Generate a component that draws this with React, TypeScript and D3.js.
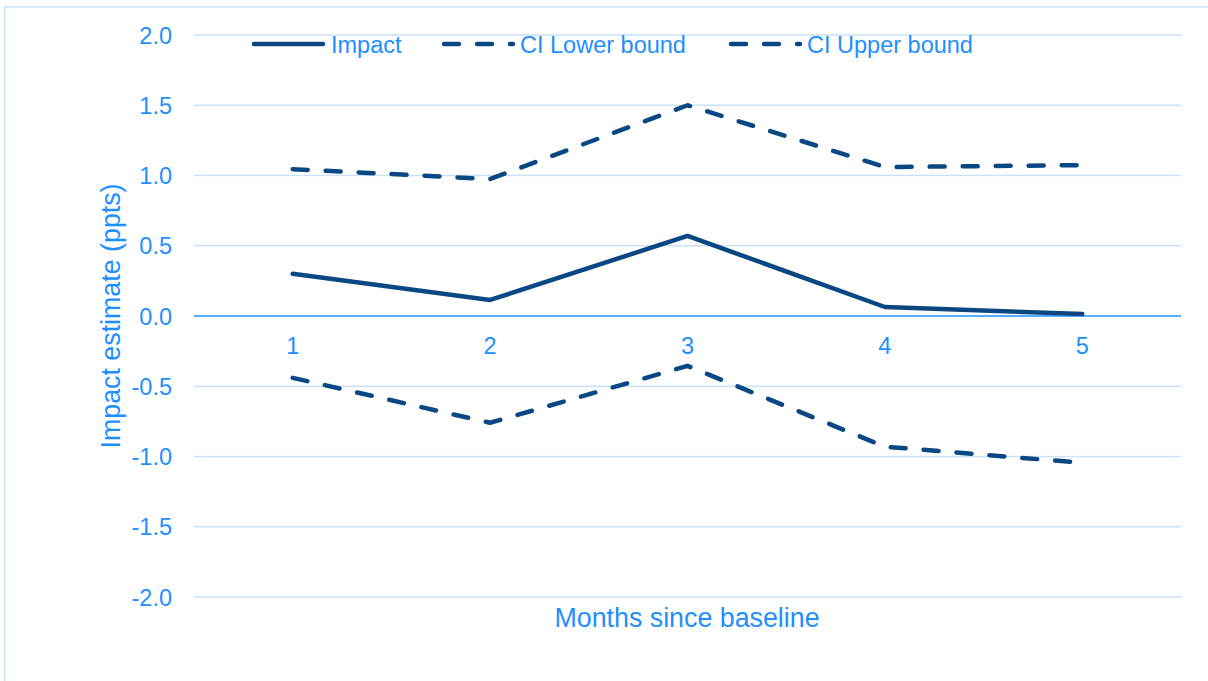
import React from "react";
import * as d3 from "d3";

const months = ["1", "2", "3", "4", "5"];
const impact = [0.3, 0.114, 0.57, 0.064, 0.014];
const ciLower = [-0.44, -0.76, -0.355, -0.93, -1.045];
const ciUpper = [1.045, 0.975, 1.5, 1.06, 1.074];
const yTicks = [2.0, 1.5, 1.0, 0.5, 0.0, -0.5, -1.0, -1.5, -2.0];

const W = 1208;
const H = 681;
const TEXT = "#1f8fff";
const LINE = "#0b4883";
const GRID = "#c9e2fa";
const FONT = "'Liberation Sans', Arial, sans-serif";

export default function App() {
  const left = 194;
  const right = 1181;
  const top = 35;
  const bottom = 597;
  const x = d3.scaleBand<string>().domain(months).range([left, right]);
  const y = d3.scaleLinear().domain([-2, 2]).range([bottom, top]);
  const cx = (m: string) => (x(m) as number) + x.bandwidth() / 2;
  const line = d3
    .line<number>()
    .x((_, i) => cx(months[i]))
    .y((d) => y(d));

  const series = [
    { name: "Impact", values: impact, dash: undefined as string | undefined, lx: 254, tx: 331 },
    { name: "CI Lower bound", values: ciLower, dash: "15,18", lx: 444, tx: 520 },
    { name: "CI Upper bound", values: ciUpper, dash: "15,18", lx: 731, tx: 807 },
  ];

  return (
    <svg
      width={W}
      height={H}
      style={{ position: "absolute", left: 0, top: 0, background: "#fff" }}
      fontFamily={FONT}
    >
      <rect x={4.5} y={7} width={1400} height={900} fill="#fff" stroke={GRID} strokeWidth={1.5} />
      {yTicks.map((t) => (
        <g key={t}>
          {t !== 0 && (
            <line x1={left} x2={right} y1={y(t)} y2={y(t)} stroke={GRID} strokeWidth={1.5} />
          )}
          <text x={172} y={y(t) + 8.5} textAnchor="end" fontSize={23.5} fill={TEXT}>
            {t.toFixed(1)}
          </text>
        </g>
      ))}
      <line x1={left} x2={right} y1={y(0)} y2={y(0)} stroke="#1e90ff" strokeWidth={1.5} />
      {months.map((m) => (
        <text key={m} x={cx(m)} y={354} textAnchor="middle" fontSize={23.5} fill={TEXT}>
          {m}
        </text>
      ))}
      {series.map((s) => (
        <path
          key={s.name}
          d={line(s.values) || ""}
          fill="none"
          stroke={LINE}
          strokeWidth={4.5}
          strokeDasharray={s.dash}
          strokeLinecap="round"
          strokeLinejoin="round"
        />
      ))}
      {series.map((s) => (
        <g key={"lg" + s.name}>
          <line
            x1={s.lx}
            x2={s.lx + 69}
            y1={44}
            y2={44}
            stroke={LINE}
            strokeWidth={4.5}
            strokeDasharray={s.dash}
            strokeLinecap="round"
          />
          <text x={s.tx} y={52.5} fontSize={23.5} fill={TEXT}>
            {s.name}
          </text>
        </g>
      ))}
      <text x={687} y={627} textAnchor="middle" fontSize={26.8} fill={TEXT}>
        Months since baseline
      </text>
      <text
        transform={`translate(120, 316) rotate(-90)`}
        textAnchor="middle"
        fontSize={26.8}
        fill={TEXT}
      >
        Impact estimate (ppts)
      </text>
    </svg>
  );
}
